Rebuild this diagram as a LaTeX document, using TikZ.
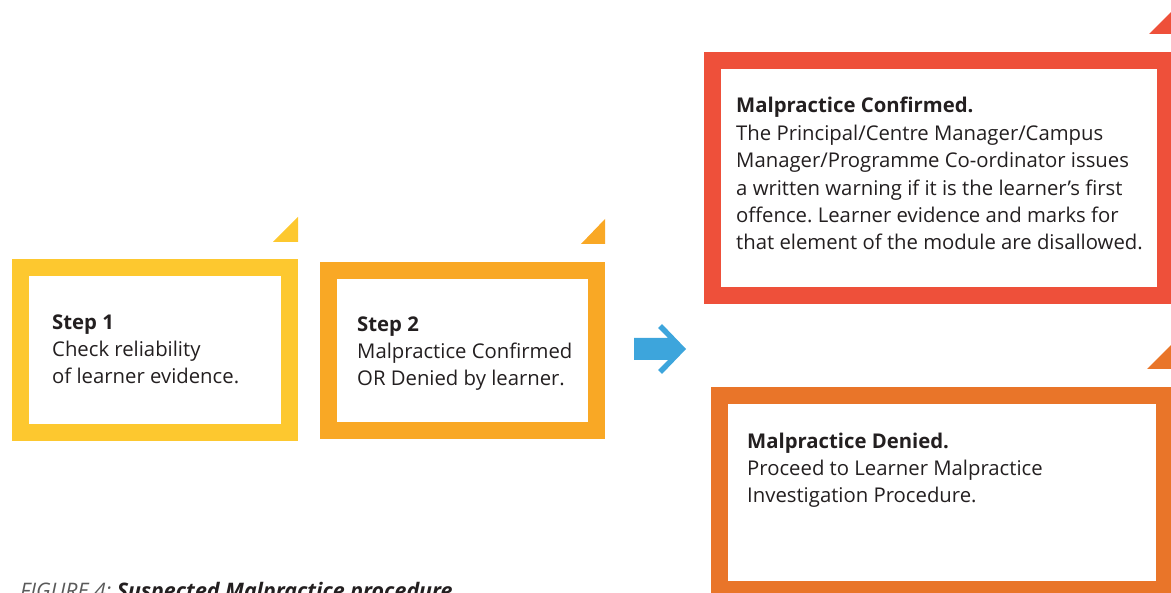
\documentclass[tikz,border=0pt]{standalone}
\usepackage{fontspec}
\setmainfont{Open Sans}
\frenchspacing
\definecolor{stepyellow}{RGB}{253,200,47}
\definecolor{stepamber}{RGB}{249,168,37}
\definecolor{outred}{RGB}{238,80,58}
\definecolor{outorange}{RGB}{233,117,41}
\definecolor{flowblue}{RGB}{61,165,220}
\definecolor{ink}{RGB}{35,31,32}
\definecolor{capgray}{RGB}{90,90,90}
\tikzset{
  frame/.style={draw=#1, line width=17pt, fill=white, inner sep=0pt},
  label text/.style={anchor=base west, inner sep=0pt, align=left, text=ink,
    font=\fontsize{20.3}{27.4}\selectfont},
}
\begin{document}
\begin{tikzpicture}[x=1pt,y=-1pt]
\useasboundingbox (0,0) rectangle (1171,593);
\clip (0,0) rectangle (1171,593);

% framed boxes (border drawn on the mid-line of the coloured band)
\node[frame=stepyellow, minimum width=269pt, minimum height=165pt] (box1) at (155,350) {};
\node[frame=stepamber,  minimum width=268pt, minimum height=160pt] (box2) at (462.5,350.5) {};
\node[frame=outred,     minimum width=453pt, minimum height=235pt] (box3) at (939,178) {};
\node[frame=outorange,  minimum width=445pt, minimum height=194pt] (box4) at (942,492.5) {};

% corner tabs above each box
\fill[stepyellow] (298,217) -- (298,242) -- (273,242) -- cycle;
\fill[stepamber]  (605,219) -- (605,244) -- (581,244) -- cycle;
\fill[outred]     (1174,9) -- (1174,34) -- (1149,34) -- cycle;
\fill[outorange]  (1173,343) -- (1173,369) -- (1147,369) -- cycle;

% blue arrow
\fill[flowblue] (634,338) -- (668,338) -- (658,328) -- (662,324) -- (686,349)
  -- (662,374) -- (658,370) -- (668,360) -- (634,360) -- cycle;

% texts (anchored at the baseline of the last line)
\node[label text] (t1) at (52,384) {\textbf{Step 1}\\Check reliability\\of learner evidence.};
\node[label text] (t2) at (357,386) {\textbf{Step 2}\\Malpractice Confirmed\\OR Denied by learner.};
\node[label text] (t3) at (736,250) {\textbf{Malpractice Confirmed.}\\The Principal/Centre Manager/Campus\\Manager/Programme Co-ordinator issues\\a written warning if it is the learner’s first\\offence. Learner evidence and marks for\\that element of the module are disallowed.};
\node[label text] (t4) at (747,503) {\textbf{Malpractice Denied.}\\Proceed to Learner Malpractice\\Investigation Procedure.};

% figure caption, running off the lower edge
\node[anchor=base west, inner sep=0pt, font=\fontsize{21.4}{24}\selectfont] (cap) at (20,598.5)
  {\textcolor{capgray}{\itshape FIGURE 4:} \textcolor{ink}{\bfseries\itshape Suspected Malpractice procedure}};
\end{tikzpicture}
\end{document}
